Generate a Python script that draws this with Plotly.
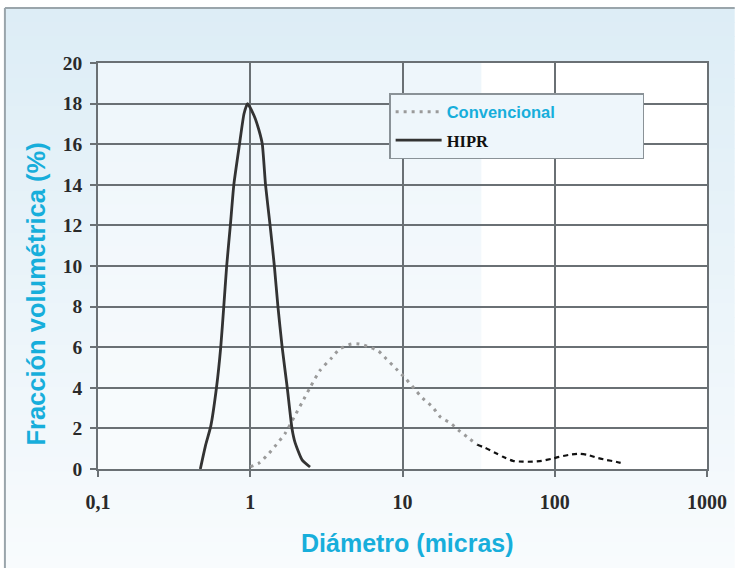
import plotly.graph_objects as go

# ---- data ----
x_ticks = [0.1, 1, 10, 100, 1000]
x_ticktext = ["0,1", "1", "10", "100", "1000"]
y_ticks = [0, 2, 4, 6, 8, 10, 12, 14, 16, 18, 20]

hipr_d = [0.47, 0.51, 0.55, 0.60, 0.64, 0.67, 0.70, 0.74, 0.78, 0.85, 0.91, 0.96,
          1.06, 1.14, 1.20, 1.26, 1.35, 1.44, 1.52, 1.62, 1.75, 1.88, 1.97, 2.19, 2.47]
hipr_v = [0.0, 1.2, 2.1, 4.0, 6.0, 8.0, 10.0, 12.0, 14.0, 16.0, 17.5, 18.0,
          17.4, 16.7, 16.0, 14.0, 12.0, 10.0, 8.0, 6.0, 4.0, 2.0, 1.3, 0.45, 0.1]

conv_d = [1.0, 1.15, 1.30, 1.48, 1.70, 1.94, 2.19, 2.47, 2.86, 3.43, 3.87, 4.62, 5.21,
          6.05, 6.93, 7.81, 9.07, 10.5, 11.9, 13.6, 15.8, 17.8, 20.7, 23.3, 27.1, 31.0]
conv_v = [0.11, 0.31, 0.70, 1.19, 1.77, 2.55, 3.28, 4.01, 4.84, 5.48, 5.92, 6.16, 6.16,
          6.01, 5.82, 5.43, 4.94, 4.45, 3.97, 3.48, 3.04, 2.55, 2.26, 1.92, 1.53, 1.19]
tail_d = [31.0, 34.9, 40.5, 45.7, 53.1, 61.7, 71.6, 82.0, 95.3, 107, 125, 145, 163,
          190, 217, 252, 284]
tail_v = [1.19, 1.04, 0.80, 0.60, 0.40, 0.36, 0.36, 0.40, 0.50, 0.60, 0.70, 0.75, 0.70,
          0.55, 0.45, 0.36, 0.26]

CYAN = "#17aedb"
GRID = "#6a7074"

# figure geometry (pixels) used to convert to paper coordinates
W, H = 739, 568
L, R, T, B = 98, 26, 63, 99
PW, PH = W - L - R, H - T - B


def px_x(p):
    return (p - L) / PW


def px_y(p):
    return (H - B - p) / PH


fig = go.Figure()
fig.add_trace(go.Scatter(
    x=conv_d, y=conv_v, mode="lines", name="Convencional" + "\u00a0" * 18,
    legendgroup="a",
    line=dict(color="#9a9a9a", width=3, dash="3px,5px", shape="spline", smoothing=0.6),
))
fig.add_trace(go.Scatter(
    x=tail_d, y=tail_v, mode="lines", showlegend=False, legendgroup="a",
    line=dict(color="#111111", width=2.2, dash="5px,4px", shape="spline", smoothing=0.6),
))
fig.add_trace(go.Scatter(
    x=hipr_d, y=hipr_v, mode="lines",
    name="<span style='color:#111;font-family:Liberation Serif'>HIPR</span>",
    legendgroup="b",
    line=dict(color="#333333", width=2.8, shape="spline", smoothing=0.5),
))

# background gradient + frame
shapes = []
n = 40
top = (221, 237, 246)
bot = (248, 251, 253)
fx0, fx1 = px_x(4), px_x(W + 2)
fy_top, fy_bot = px_y(8), px_y(H + 2)
for i in range(n):
    t = i / (n - 1)
    c = tuple(int(round(top[k] + (bot[k] - top[k]) * t)) for k in range(3))
    y1 = fy_top - i * (fy_top - fy_bot) / n
    y0 = fy_top - (i + 1) * (fy_top - fy_bot) / n
    shapes.append(dict(type="rect", xref="paper", yref="paper",
                       x0=fx0, x1=fx1, y0=y0 - 0.002, y1=y1,
                       fillcolor="rgb(%d,%d,%d)" % c, line=dict(width=0), layer="below"))
# lighter veil on the left of the plot area, white patch on the right side
shapes.append(dict(type="rect", xref="paper", yref="paper", x0=0, x1=px_x(485), y0=0, y1=1,
                   fillcolor="rgba(255,255,255,0.45)", line=dict(width=0), layer="below"))
shapes.append(dict(type="rect", xref="paper", yref="paper", x0=px_x(485), x1=1.0, y0=0, y1=1,
                   fillcolor="white", line=dict(width=0), layer="below"))
shapes.append(dict(type="line", xref="paper", yref="paper", x0=fx0, x1=fx1,
                   y0=fy_top, y1=fy_top, line=dict(color="#9aa5ab", width=2), layer="below"))
shapes.append(dict(type="line", xref="paper", yref="paper", x0=fx0, x1=fx0,
                   y0=fy_bot, y1=fy_top, line=dict(color="#9aa5ab", width=2), layer="below"))

fig.update_layout(
    width=W, height=H,
    margin=dict(l=L, r=R, t=T, b=B),
    paper_bgcolor="white",
    plot_bgcolor="rgba(0,0,0,0)",
    shapes=shapes,
    showlegend=True,
    legend=dict(
        x=px_x(392), y=px_y(93), xanchor="left", yanchor="top",
        bgcolor="#eef6fb", bordercolor="#8a9297", borderwidth=1.5,
        font=dict(family="Liberation Sans", size=16.5, color=CYAN, weight="bold"),
        tracegroupgap=4, itemwidth=46, traceorder="grouped",
    ),
    xaxis=dict(
        type="log", range=[-1, 3],
        tickvals=x_ticks, ticktext=x_ticktext,
        showgrid=True, gridcolor=GRID, gridwidth=1.8,
        showline=True, linecolor=GRID, linewidth=1.8, mirror=True,
        ticks="outside", ticklen=6, tickcolor=GRID, tickwidth=1.8,
        ticklabelstandoff=8,
        tickfont=dict(family="Liberation Serif", size=20, color="#2a2a2a", weight="bold"),
        zeroline=False,
    ),
    yaxis=dict(
        range=[0, 20], tickvals=y_ticks,
        showgrid=True, gridcolor=GRID, gridwidth=1.8,
        showline=True, linecolor=GRID, linewidth=1.8, mirror=True,
        ticks="outside", ticklen=6, tickcolor=GRID, tickwidth=1.8,
        ticklabelstandoff=4,
        tickfont=dict(family="Liberation Serif", size=19.5, color="#2a2a2a", weight="bold"),
        zeroline=False,
    ),
    annotations=[
        dict(text="Diámetro (micras)", xref="paper", yref="paper",
             x=px_x(411), y=px_y(543), xanchor="center", yanchor="middle", showarrow=False,
             font=dict(family="Liberation Sans", size=25, color=CYAN, weight="bold")),
        dict(text="Fracción volumétrica (%)", xref="paper", yref="paper",
             x=px_x(35), y=px_y(294), xanchor="center", yanchor="middle", showarrow=False,
             textangle=-90,
             font=dict(family="Liberation Sans", size=25.5, color=CYAN, weight="bold")),
    ],
)

fig.write_html("out.html")
